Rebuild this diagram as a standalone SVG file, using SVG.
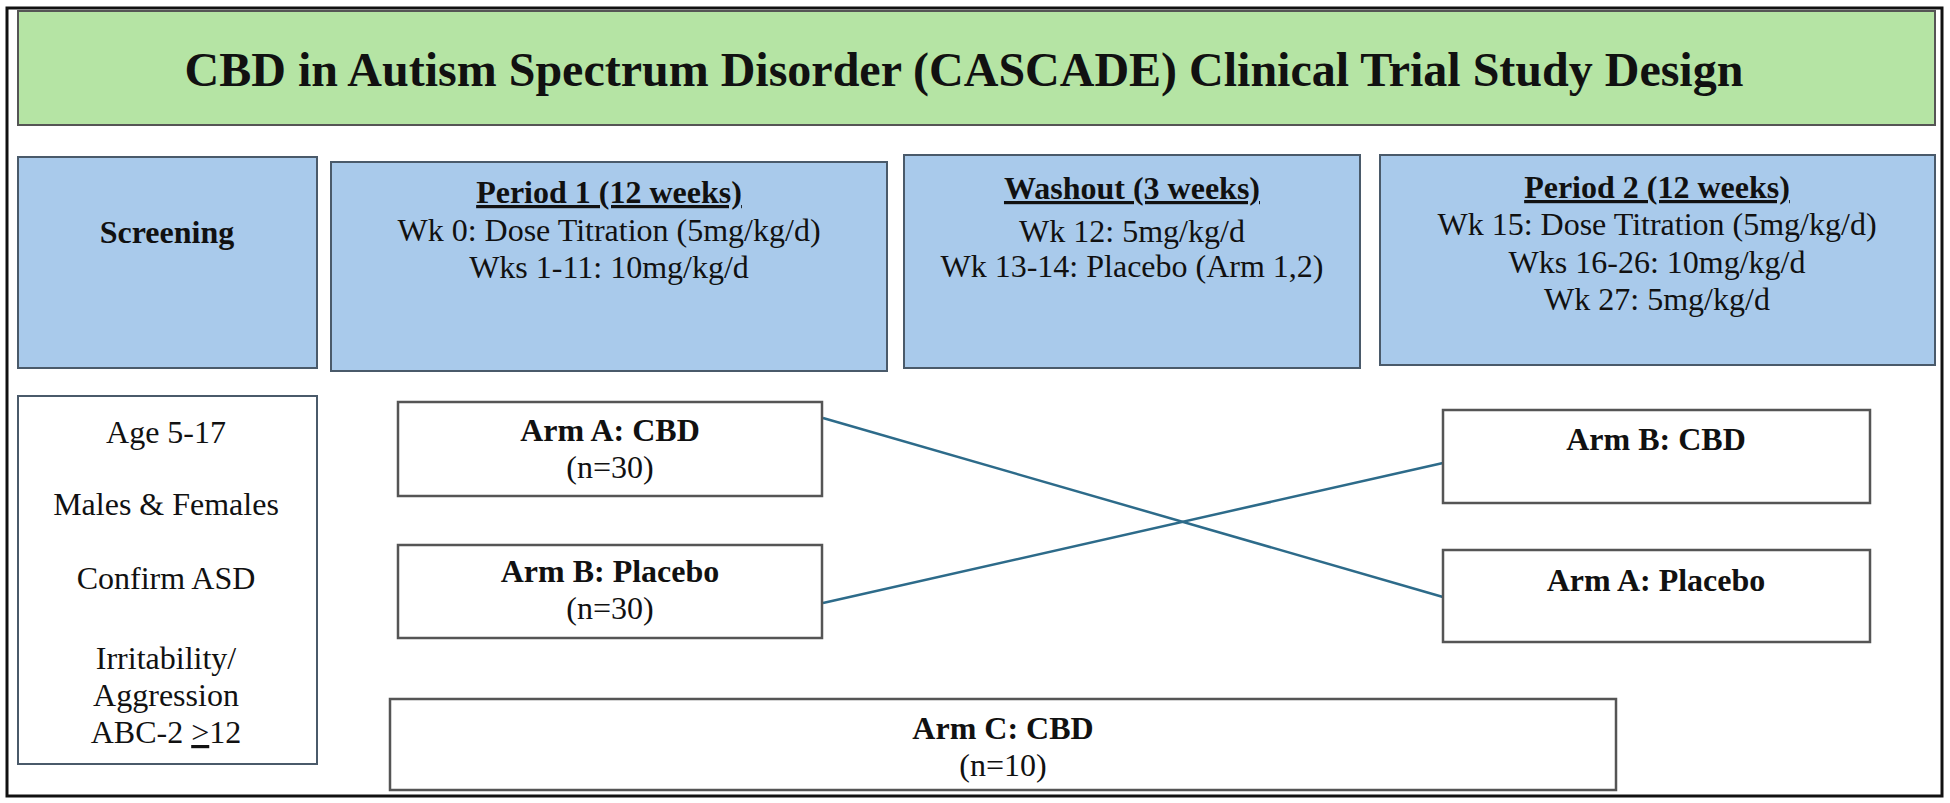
<svg xmlns="http://www.w3.org/2000/svg" width="1950" height="803" viewBox="0 0 1950 803">
<style>
text{font-family:"Liberation Serif","Times New Roman",serif;font-size:32px;fill:#111;text-anchor:middle}
.b{font-weight:bold}
.u{text-decoration:underline}
.blue{fill:#a9caeb;stroke:#4a5a6a;stroke-width:2}
.wh{fill:#fff;stroke:#555;stroke-width:2.5}
</style>
<rect x="0" y="0" width="1950" height="803" fill="#fff"/>
<rect x="7" y="8" width="1935" height="788" fill="#fff" stroke="#111" stroke-width="3"/>
<g id="title"><rect x="18" y="11" width="1917" height="114" fill="#b5e4a4" stroke="#555" stroke-width="2"/>
<text x="964" y="86" class="b" style="font-size:48px">CBD in Autism Spectrum Disorder (CASCADE) Clinical Trial Study Design</text></g>
<g id="screening"><rect class="blue" x="18" y="157" width="299" height="211"/><text x="167" y="243" class="b">Screening</text></g>
<g id="period1"><rect class="blue" x="331" y="162" width="556" height="209"/>
<text x="609" y="203" class="b u">Period 1 (12 weeks)</text>
<text x="609" y="241">Wk 0: Dose Titration (5mg/kg/d)</text>
<text x="609" y="278">Wks 1-11: 10mg/kg/d</text></g>
<g id="washout"><rect class="blue" x="904" y="155" width="456" height="213"/>
<text x="1132" y="199" class="b u">Washout (3 weeks)</text>
<text x="1132" y="242">Wk 12: 5mg/kg/d</text>
<text x="1132" y="277">Wk 13-14: Placebo (Arm 1,2)</text></g>
<g id="period2"><rect class="blue" x="1380" y="155" width="555" height="210"/>
<text x="1657" y="198" class="b u">Period 2 (12 weeks)</text>
<text x="1657" y="235">Wk 15: Dose Titration (5mg/kg/d)</text>
<text x="1657" y="273">Wks 16-26: 10mg/kg/d</text>
<text x="1657" y="310">Wk 27: 5mg/kg/d</text></g>
<g id="criteria"><rect x="18" y="396" width="299" height="368" fill="#fff" stroke="#4a5a6a" stroke-width="2"/>
<text x="166" y="443">Age 5-17</text>
<text x="166" y="515">Males &amp; Females</text>
<text x="166" y="589">Confirm ASD</text>
<text x="166" y="669">Irritability/</text>
<text x="166" y="706">Aggression</text>
<text x="166" y="743">ABC-2 <tspan text-decoration="underline">&gt;</tspan>12</text></g>
<g id="connectors" stroke="#2d6b8a" stroke-width="2.5" fill="none">
<line x1="823" y1="418" x2="1443" y2="597"/>
<line x1="823" y1="603" x2="1443" y2="463"/>
</g>
<g id="armA"><rect class="wh" x="398" y="402" width="424" height="94"/>
<text x="610" y="441" class="b">Arm A: CBD</text><text x="610" y="478">(n=30)</text></g>
<g id="armB"><rect class="wh" x="398" y="545" width="424" height="93"/>
<text x="610" y="582" class="b">Arm B: Placebo</text><text x="610" y="619">(n=30)</text></g>
<g id="armBcbd"><rect class="wh" x="1443" y="410" width="427" height="93"/>
<text x="1656" y="450" class="b">Arm B: CBD</text></g>
<g id="armAplacebo"><rect class="wh" x="1443" y="550" width="427" height="92"/>
<text x="1656" y="591" class="b">Arm A: Placebo</text></g>
<g id="armC"><rect class="wh" x="390" y="699" width="1226" height="91"/>
<text x="1003" y="739" class="b">Arm C: CBD</text><text x="1003" y="776">(n=10)</text></g>
</svg>
